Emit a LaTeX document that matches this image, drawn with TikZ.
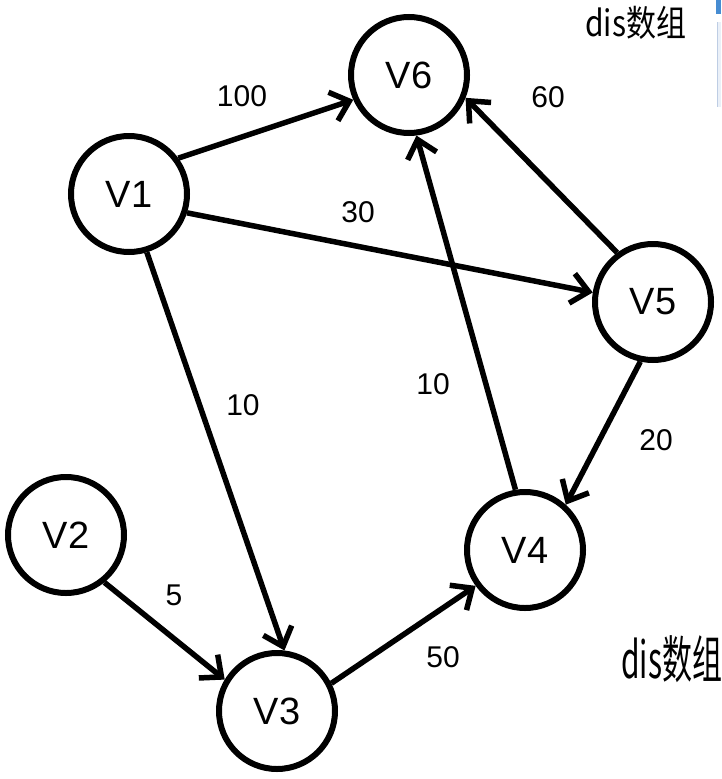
\documentclass[tikz,border=0pt]{standalone}
\usepackage{fontspec}
\setmainfont{Liberation Sans}
\newfontfamily\cjk{Noto Sans CJK SC}
\usetikzlibrary{arrows.meta}
\definecolor{panelbg}{RGB}{234,240,248}
\definecolor{panelline}{RGB}{190,205,228}
\definecolor{panelbar}{RGB}{70,140,210}
\begin{document}
\begin{tikzpicture}[x=1pt,y=1pt,
  vtx/.style={circle,draw,line width=6pt,minimum size=116pt,inner sep=0pt,
    font=\fontsize{38}{44}\selectfont},
  edge/.style={line width=5.5pt,-{Straight Barb[length=17pt,width=30pt]}},
  wt/.style={font=\fontsize{30}{34}\selectfont,inner sep=0pt},
  disnote/.style={anchor=base west,inner sep=0pt,font=\cjk\fontsize{30}{34}\selectfont},
]
\useasboundingbox (0,0) rectangle (721,-779);
% partial panel at top right
\fill[panelbg] (717,-22) rectangle (721,-107);
\draw[panelline,line width=1.2pt] (717.6,-22) -- (717.6,-107);
\fill[panelbar] (716,0) rectangle (721,-14);
% vertices
\node[vtx] (V6) at (409,-75) {V6};
\node[vtx] (V1) at (129,-194) {V1};
\node[vtx] (V5) at (653,-302) {V5};
\node[vtx] (V2) at (66,-535) {V2};
\node[vtx] (V4) at (525,-550) {V4};
\node[vtx] (V3) at (277,-711) {V3};
% edges
\draw[edge] (V1.36) -- (V6.204);
\draw[edge] (V1.-18) -- (V5.171);
\draw[edge] (V1.-73) -- (V3.83);
\draw[edge] (V2.-51) -- (V3.149);
\draw[edge] (V3.27) -- (V4.216);
\draw[edge] (V4.99) -- (V6.277);
\draw[edge] (V5.126) -- (V6.-22);
\draw[edge] (V5.258) -- (V4.48);
% weights
\node[wt] (w16) at (242,-96) {100};
\node[wt] (w15) at (358,-212) {30};
\node[wt] (w13) at (243,-405) {10};
\node[wt] (w46) at (433,-384) {10};
\node[wt] (w56) at (548,-97) {60};
\node[wt] (w54) at (656,-440) {20};
\node[wt] (w23) at (174,-595) {5};
\node[wt] (w34) at (443,-657) {50};
% captions
\node[disnote] (dis1) at (585,-36) {\scalebox{1}[1.2]{dis数组}};
\node[disnote] (dis2) at (621,-678) {\scalebox{1}[1.7]{dis数组}};
\end{tikzpicture}
\end{document}
